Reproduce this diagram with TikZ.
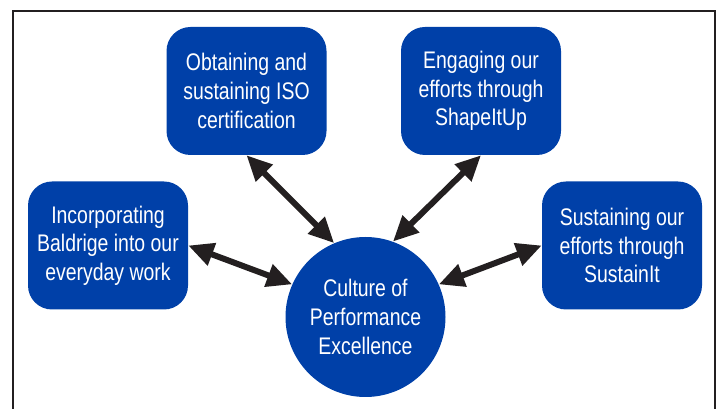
\documentclass[tikz,border=0pt]{standalone}
\usepackage{fontspec}
\usetikzlibrary{arrows.meta}

\newfontfamily\boxfont[FakeStretch=0.81]{Liberation Sans}
\definecolor{boxblue}{RGB}{0,64,168}
\definecolor{arrowblack}{RGB}{35,31,32}

\begin{document}
\begin{tikzpicture}[x = 0.75pt, y = -0.75pt,
        box/.style = {rectangle, rounded corners = 18pt, fill = boxblue, text = white,
            minimum width = 120pt, minimum height = 96pt, inner sep = 0pt,
            align = center, font = \boxfont\fontsize{18}{21.5}\selectfont},
        hub/.style = {circle, fill = boxblue, text = white, minimum size = 120pt,
            inner sep = 0pt, align = center, font = \boxfont\fontsize{18}{21.5}\selectfont},
        link/.style = {{Triangle[length = 19pt, width = 17pt]}-{Triangle[length = 19pt, width = 17pt]},
            line width = 4.5pt, draw = arrowblack},
        frame/.style = {draw = arrowblack, line width = 0.9pt}]
            \clip (0,0) rectangle (718,409);

            % outer frame, bottom edge runs off the picture
            \draw[frame] (13,11) rectangle (715,440);

            \node[box] (iso) at (246.5,91) {Obtaining and\\sustaining ISO\\certification};
            \node[box] (shape) at (481,91) {Engaging our\\efforts through\\ShapeItUp};
            \node[box] (baldrige) at (108,245.5) {Incorporating\\Baldrige into our\\everyday work};
            \node[box] (sustain) at (622,245.5) {Sustaining our\\efforts through\\SustainIt};
            \node[hub] (culture) at (365.5,317) {Culture of\\Performance\\Excellence};

            \draw[link] (culture.113) -- (iso.south);
            \draw[link] (culture.70) -- (shape.south);
            \draw[link] (culture.156) -- (baldrige.east);
            \draw[link] (culture.24) -- (sustain.west);
\end{tikzpicture}
\end{document}
